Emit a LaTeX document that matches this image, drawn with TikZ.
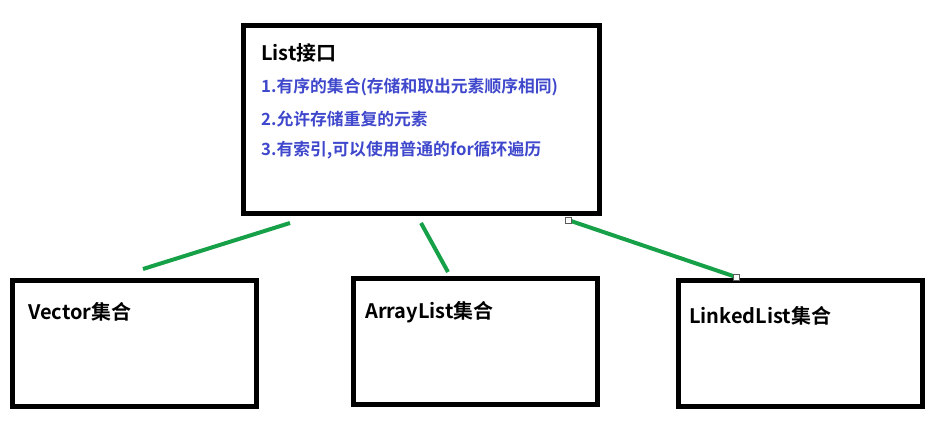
\documentclass[tikz,border=0pt]{standalone}
\usepackage{fontspec}
\setmainfont{Noto Sans CJK SC}[BoldFont={* Bold}]
\definecolor{linkgreen}{RGB}{22,160,72}
\definecolor{paintblue}{RGB}{63,72,204}
\begin{document}
\begin{tikzpicture}[x=1pt,y=-1pt,
  box/.style={draw=black,line width=5pt,minimum width=244pt,minimum height=126pt,inner sep=0pt,fill=white},
  title/.style={anchor=west,inner sep=0pt,font=\bfseries\fontsize{20}{20}\selectfont,text=black},
  item/.style={anchor=west,inner sep=0pt,font=\bfseries\fontsize{16.8}{16.8}\selectfont,text=paintblue},
  link/.style={draw=linkgreen,line width=4pt},
  handle/.style={draw=gray!70!black,fill=white,line width=0.8pt,minimum size=6pt,inner sep=0pt}]
\useasboundingbox (0,0) rectangle (934,423);
% boxes
\node[box,minimum width=356pt,minimum height=188pt] (list) at (421,119) {};
\node[box] (vector) at (134,343) {};
\node[box] (array) at (475,341) {};
\node[box] (linked) at (800,343) {};
% texts
\node[title] (tlist) at (261,53) {List接口};
\node[item] (i1) at (261,86.5) {1.有序的集合(存储和取出元素顺序相同)};
\node[item] (i2) at (261,119.5) {2.允许存储重复的元素};
\node[item] (i3) at (261,150) {3.有索引,可以使用普通的for循环遍历};
\node[title] (tvector) at (28,312) {Vector集合};
\node[title] (tarray) at (365,312) {ArrayList集合};
\node[title] (tlinked) at (689,315.5) {LinkedList集合};
% connector ends
\coordinate (a1) at (290,223);
\coordinate (a2) at (143,269);
\coordinate (b1) at (421,223);
\coordinate (b2) at (448,272);
\coordinate (c1) at (568,220);
\coordinate (c2) at (736,277);
\draw[link] (a1) -- (a2);
\draw[link] (b1) -- (b2);
\draw[link] (c1) -- (c2);
\node[handle] (h1) at (c1) {};
\node[handle] (h2) at (c2) {};
\end{tikzpicture}
\end{document}
